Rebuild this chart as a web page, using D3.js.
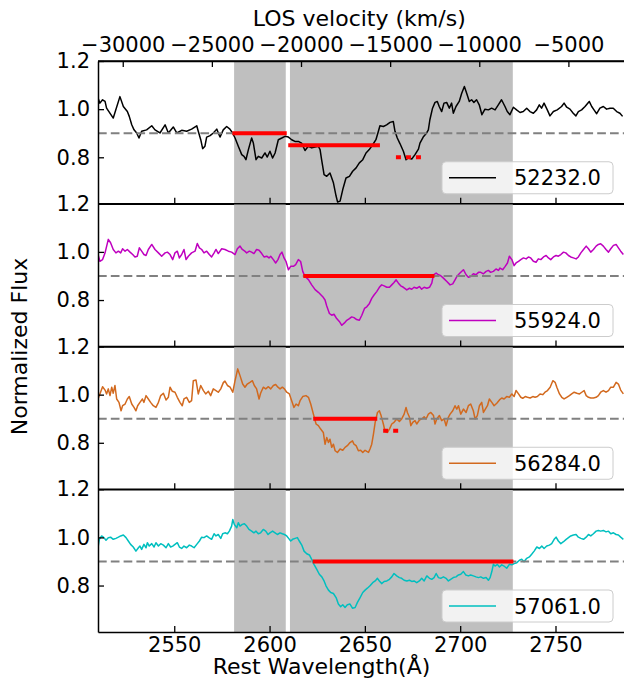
<!DOCTYPE html>
<html>
<head>
<meta charset="utf-8">
<script src="https://cdn.jsdelivr.net/npm/d3@7"></script>
<style>
  body { margin: 0; background: #ffffff; }
  svg text { font-family: "DejaVu Sans", sans-serif; fill: #000; }
</style>
</head>
<body>
<svg id="chart" width="624" height="679"></svg>
<script>
// ---- data -------------------------------------------------------------
const epochs = ["52232.0", "55924.0", "56284.0", "57061.0"];
const lineColors = ["#000000", "#bf00bf", "#d2691e", "#00bfbf"];

// Normalized flux vs rest wavelength (Å), one spectrum per MJD
const spec52232 = [
  [2510.0,1.046],[2511.0,1.025],[2512.4,1.039],[2513.7,1.032],[2514.5,1.004],[2518.0,0.963],[2521.5,1.052],
  [2523.3,1.011],[2525.4,0.990],[2526.4,0.970],[2527.7,0.935],[2528.9,0.914],[2530.3,0.901],[2531.5,0.880],
  [2532.9,0.908],[2535.5,0.914],[2538.2,0.931],[2539.9,0.914],[2542.5,0.901],[2545.2,0.935],[2546.9,0.901],
  [2549.5,0.926],[2551.3,0.901],[2553.9,0.912],[2556.5,0.908],[2559.1,0.917],[2561.8,0.931],[2562.6,0.908],
  [2563.9,0.873],[2564.9,0.836],[2566.1,0.846],[2567.0,0.884],[2568.8,0.890],[2570.5,0.901],[2572.3,0.917],
  [2574.0,0.884],[2575.7,0.914],[2577.5,0.928],[2579.2,0.917],[2580.6,0.901],[2581.9,0.880],[2583.6,0.846],
  [2585.4,0.811],[2586.6,0.804],[2587.6,0.790],[2588.9,0.832],[2590.6,0.880],[2591.5,0.859],[2592.9,0.790],
  [2594.1,0.804],[2595.9,0.797],[2597.6,0.818],[2598.8,0.801],[2600.2,0.825],[2601.6,0.797],[2602.9,0.818],
  [2604.6,0.873],[2606.4,0.880],[2608.1,0.887],[2609.9,0.884],[2611.6,0.873],[2613.3,0.866],[2615.1,0.866],
  [2616.8,0.859],[2618.6,0.828],[2620.3,0.846],[2622.1,0.839],[2623.8,0.843],[2625.6,0.846],[2626.5,0.832],
  [2627.3,0.790],[2628.6,0.728],[2630.0,0.721],[2631.7,0.735],[2633.5,0.694],[2634.9,0.639],[2635.7,0.614],
  [2637.0,0.618],[2638.4,0.666],[2640.1,0.714],[2641.9,0.721],[2643.6,0.742],[2645.4,0.756],[2647.1,0.777],
  [2648.9,0.790],[2650.6,0.818],[2652.3,0.832],[2654.1,0.852],[2655.8,0.873],[2657.1,0.908],[2657.9,0.931],
  [2659.7,0.928],[2661.4,0.935],[2663.2,0.945],[2664.9,0.949],[2665.8,0.908],[2667.0,0.880],[2668.4,0.857],
  [2670.2,0.825],[2671.6,0.790],[2672.8,0.797],[2674.6,0.793],[2676.3,0.811],[2678.1,0.834],[2678.9,0.859],
  [2680.6,0.884],[2682.4,0.901],[2683.3,0.914],[2684.1,0.956],[2685.5,1.004],[2686.8,1.028],[2688.0,1.032],
  [2689.0,1.011],[2690.3,0.990],[2691.5,1.025],[2692.9,1.028],[2694.3,1.004],[2695.5,1.025],[2696.4,0.983],
  [2697.8,1.011],[2699.5,1.032],[2700.8,1.066],[2702.2,1.094],[2703.4,1.066],[2704.8,1.032],[2706.0,1.039],
  [2707.2,1.028],[2708.6,1.039],[2710.0,1.018],[2711.4,0.977],[2713.0,1.000],[2714.8,0.997],[2716.5,1.004],
  [2718.3,0.997],[2720.0,1.018],[2721.7,1.039],[2723.5,1.011],[2724.7,0.990],[2726.1,0.977],[2727.9,1.008],
  [2729.6,0.997],[2731.4,0.986],[2733.1,0.990],[2734.9,1.004],[2736.6,0.990],[2738.4,0.983],[2740.1,0.997],
  [2741.5,1.018],[2742.7,1.004],[2744.0,1.025],[2745.7,0.997],[2747.1,0.972],[2748.9,0.990],[2750.9,0.997],
  [2753.2,1.011],[2754.5,1.025],[2755.9,1.008],[2757.6,1.000],[2759.3,0.983],[2760.7,0.972],[2762.0,0.990],
  [2763.7,0.997],[2765.5,1.011],[2767.7,1.032],[2769.0,1.011],[2770.2,0.997],[2771.6,0.981],[2773.3,1.004],
  [2775.1,1.011],[2776.8,1.000],[2778.6,1.004],[2780.3,1.004],[2782.1,0.990],[2783.8,0.983],[2785.2,0.970]
];

const spec55924 = [
  [2510.0,0.989],[2511.0,0.961],[2512.4,0.968],[2513.7,0.996],[2515.4,1.052],[2516.6,1.038],[2518.0,1.010],
  [2519.4,0.996],[2520.7,1.003],[2521.9,0.996],[2522.9,1.013],[2524.2,1.003],[2525.4,1.010],[2526.8,0.999],
  [2528.2,0.989],[2529.4,0.979],[2530.6,0.982],[2531.7,1.017],[2532.9,1.003],[2534.1,0.989],[2535.2,0.985],
  [2536.4,1.010],[2538.2,1.031],[2539.9,1.010],[2541.7,0.996],[2543.4,0.982],[2545.2,0.996],[2546.4,0.999],
  [2547.8,0.989],[2549.2,0.968],[2550.4,0.996],[2551.6,1.003],[2552.7,0.975],[2553.9,0.989],[2555.1,1.010],
  [2556.2,0.968],[2557.4,0.982],[2559.1,0.996],[2560.9,1.003],[2562.1,1.035],[2563.2,1.017],[2564.4,1.010],
  [2565.6,0.996],[2567.0,1.003],[2568.4,0.989],[2569.6,0.979],[2570.9,0.996],[2571.9,1.010],[2573.1,0.993],
  [2574.9,1.013],[2576.6,1.010],[2578.4,1.003],[2580.1,0.999],[2581.9,0.989],[2583.1,1.013],[2584.5,1.024],
  [2585.7,1.010],[2587.0,1.003],[2588.0,0.996],[2589.4,1.003],[2590.6,0.999],[2591.8,0.993],[2593.2,1.010],
  [2594.5,1.007],[2595.9,0.993],[2597.1,0.979],[2598.5,0.982],[2599.7,0.975],[2600.6,0.982],[2602.0,0.968],
  [2603.2,0.954],[2604.4,0.968],[2605.5,0.989],[2606.5,0.999],[2607.6,0.975],[2608.6,0.961],[2609.9,0.926],
  [2611.1,0.940],[2612.5,0.940],[2613.7,0.947],[2615.1,0.968],[2616.3,0.960],[2617.4,0.919],[2618.6,0.898],
  [2620.4,0.885],[2622.1,0.863],[2623.9,0.843],[2625.6,0.832],[2627.9,0.814],[2629.1,0.800],[2630.0,0.775],
  [2631.4,0.744],[2632.6,0.737],[2633.8,0.741],[2635.2,0.723],[2636.6,0.711],[2637.9,0.695],[2639.3,0.705],
  [2640.5,0.716],[2641.9,0.723],[2643.1,0.730],[2644.3,0.727],[2645.7,0.719],[2647.1,0.716],[2648.4,0.737],
  [2649.8,0.765],[2651.0,0.772],[2652.4,0.786],[2653.6,0.807],[2654.8,0.821],[2656.2,0.835],[2657.6,0.853],
  [2658.8,0.863],[2660.1,0.859],[2661.5,0.853],[2662.9,0.853],[2664.1,0.863],[2665.3,0.873],[2666.4,0.884],
  [2667.6,0.870],[2668.8,0.859],[2670.2,0.853],[2672.0,0.842],[2673.4,0.849],[2674.6,0.845],[2675.8,0.853],
  [2677.2,0.849],[2678.6,0.856],[2679.8,0.845],[2681.1,0.853],[2682.5,0.849],[2683.9,0.853],[2685.1,0.870],
  [2686.0,0.905],[2687.4,0.912],[2688.6,0.905],[2689.8,0.901],[2691.2,0.891],[2693.0,0.877],[2694.7,0.863],
  [2696.1,0.867],[2697.3,0.884],[2698.5,0.901],[2699.9,0.912],[2701.7,0.926],[2703.1,0.905],[2704.3,0.895],
  [2705.5,0.898],[2706.9,0.909],[2708.3,0.905],[2709.6,0.915],[2710.8,0.915],[2712.2,0.909],[2713.6,0.919],
  [2714.8,0.923],[2716.0,0.915],[2717.4,0.919],[2718.8,0.929],[2720.1,0.923],[2720.9,0.933],[2722.3,0.926],
  [2723.6,0.940],[2724.8,0.954],[2725.8,0.982],[2727.1,0.968],[2728.3,0.943],[2729.3,0.954],[2730.6,0.961],
  [2731.8,0.968],[2733.2,0.975],[2734.6,0.971],[2735.8,0.979],[2737.0,0.975],[2738.4,0.961],[2739.8,0.957],
  [2741.0,0.971],[2742.3,0.968],[2743.7,0.979],[2745.1,0.985],[2746.3,0.975],[2747.5,0.968],[2748.9,0.979],
  [2750.3,0.985],[2751.5,0.982],[2752.8,0.989],[2754.2,0.999],[2755.4,0.996],[2756.8,0.985],[2758.0,0.979],
  [2759.4,0.975],[2760.8,0.971],[2762.0,0.979],[2763.3,0.996],[2764.7,1.010],[2766.1,1.024],[2767.3,1.013],
  [2768.5,0.999],[2769.9,1.010],[2771.3,1.024],[2772.5,1.031],[2773.7,1.034],[2775.1,1.024],[2776.5,1.010],
  [2777.8,0.999],[2779.0,1.013],[2780.4,1.027],[2781.8,1.031],[2783.0,1.017],[2784.2,1.003],[2785.6,0.989]
];

const spec56284 = [
  [2510.0,0.982],[2511.0,1.003],[2512.4,1.033],[2513.7,1.019],[2514.5,1.003],[2515.4,1.024],[2516.3,0.996],
  [2517.2,1.031],[2518.0,1.006],[2518.9,1.038],[2519.8,0.982],[2521.0,0.968],[2522.1,0.933],[2522.9,0.954],
  [2524.2,0.961],[2525.4,0.982],[2526.4,0.992],[2527.7,0.961],[2528.9,0.947],[2529.9,0.933],[2530.8,0.954],
  [2532.0,0.968],[2533.3,0.982],[2534.1,0.968],[2535.2,0.996],[2536.4,0.982],[2537.6,0.968],[2539.0,0.954],
  [2540.4,0.947],[2541.7,0.968],[2542.9,0.996],[2544.3,1.006],[2545.7,0.978],[2546.9,0.989],[2547.8,1.031],
  [2549.0,1.014],[2550.4,1.010],[2551.6,0.989],[2553.0,0.968],[2554.2,0.954],[2555.1,0.982],[2556.5,0.989],
  [2557.9,0.968],[2559.1,0.975],[2560.0,1.058],[2561.4,1.061],[2562.6,1.003],[2563.9,1.038],[2565.3,1.017],
  [2566.5,1.003],[2567.9,1.014],[2569.1,0.996],[2570.5,1.024],[2571.9,1.017],[2573.1,1.010],[2574.4,1.024],
  [2575.8,1.051],[2576.6,1.056],[2577.9,1.038],[2579.3,1.031],[2580.7,1.010],[2581.9,1.058],[2583.3,1.107],
  [2584.5,1.079],[2585.9,1.044],[2587.1,1.031],[2588.3,1.044],[2589.7,1.051],[2591.0,1.058],[2592.0,1.038],
  [2593.2,1.024],[2594.5,0.982],[2595.3,1.006],[2596.7,1.031],[2598.0,1.024],[2599.4,1.033],[2600.6,1.024],
  [2602.0,1.038],[2603.2,1.042],[2604.4,1.031],[2605.5,1.024],[2606.7,1.031],[2607.8,1.024],[2609.0,1.010],
  [2610.4,1.003],[2611.6,0.975],[2612.8,0.947],[2613.9,0.961],[2615.1,0.954],[2616.0,0.975],[2617.4,0.992],
  [2619.1,0.996],[2620.4,0.989],[2621.6,0.961],[2623.0,0.919],[2624.4,0.878],[2625.6,0.871],[2626.8,0.857],
  [2628.2,0.843],[2629.1,0.794],[2630.0,0.822],[2630.9,0.801],[2631.7,0.815],[2632.6,0.781],[2633.5,0.794],
  [2634.4,0.767],[2635.6,0.760],[2637.0,0.774],[2638.4,0.769],[2639.6,0.781],[2640.8,0.788],[2642.2,0.801],
  [2643.5,0.808],[2644.3,0.794],[2645.4,0.788],[2646.6,0.767],[2647.8,0.769],[2648.9,0.760],[2650.1,0.769],
  [2651.0,0.764],[2651.9,0.760],[2652.7,0.774],[2653.6,0.794],[2654.5,0.836],[2655.4,0.885],[2656.6,0.926],
  [2657.6,0.933],[2658.5,0.913],[2659.7,0.878],[2660.6,0.847],[2661.8,0.843],[2662.9,0.857],[2664.1,0.878],
  [2665.3,0.885],[2666.7,0.899],[2668.1,0.889],[2669.3,0.899],[2670.6,0.919],[2671.6,0.947],[2672.3,0.926],
  [2673.4,0.906],[2674.1,0.871],[2675.1,0.885],[2676.3,0.892],[2677.2,0.878],[2678.6,0.894],[2679.8,0.899],
  [2681.1,0.908],[2682.1,0.899],[2683.3,0.919],[2684.6,0.926],[2686.0,0.913],[2686.8,0.878],[2687.7,0.899],
  [2689.1,0.913],[2690.3,0.892],[2691.6,0.899],[2692.6,0.871],[2693.8,0.906],[2694.7,0.919],[2696.1,0.933],
  [2697.3,0.954],[2698.2,0.940],[2699.1,0.954],[2700.3,0.919],[2701.7,0.940],[2703.1,0.926],[2704.3,0.954],
  [2705.5,0.961],[2706.9,0.933],[2707.8,0.899],[2709.0,0.913],[2710.1,0.954],[2711.3,0.968],[2712.2,0.926],
  [2713.2,0.940],[2714.3,0.954],[2715.3,0.982],[2716.6,0.968],[2717.8,0.954],[2719.2,0.964],[2720.6,0.978],
  [2721.8,0.986],[2723.0,0.982],[2724.4,0.992],[2725.8,0.989],[2727.1,1.003],[2728.3,0.992],[2729.3,1.017],
  [2730.6,1.003],[2731.8,0.989],[2732.8,0.985],[2734.1,0.992],[2735.3,0.989],[2736.7,0.986],[2738.1,0.992],
  [2739.3,0.989],[2740.5,0.992],[2741.9,1.003],[2743.3,1.000],[2744.5,1.010],[2745.8,1.017],[2747.2,1.031],
  [2748.6,1.058],[2749.8,1.051],[2750.7,1.031],[2752.1,1.003],[2753.3,0.989],[2754.5,0.982],[2755.9,0.989],
  [2757.3,0.996],[2758.5,1.003],[2759.8,1.010],[2761.2,1.006],[2762.6,1.003],[2763.8,1.010],[2765.0,1.017],
  [2766.1,0.996],[2767.3,0.989],[2768.5,0.986],[2769.9,0.986],[2771.3,0.989],[2772.5,0.996],[2773.7,1.010],
  [2775.1,1.017],[2776.5,1.010],[2777.8,1.017],[2779.0,1.031],[2780.4,1.031],[2781.8,1.051],[2783.0,1.044],
  [2784.2,1.019],[2785.6,1.003]
];

const spec57061 = [
  [2510.0,0.957],[2510.7,0.992],[2511.9,1.006],[2513.1,0.999],[2514.2,0.988],[2515.4,0.999],[2516.6,1.001],
  [2518.0,0.992],[2519.4,0.996],[2520.7,1.001],[2521.9,1.006],[2523.3,1.010],[2524.7,0.999],[2525.9,0.985],
  [2527.1,0.971],[2528.5,0.960],[2529.9,0.943],[2531.2,0.957],[2532.0,0.964],[2532.9,0.950],[2534.1,0.971],
  [2535.2,0.957],[2535.9,0.978],[2536.9,0.964],[2538.2,0.974],[2539.4,0.960],[2540.4,0.978],[2541.7,0.964],
  [2542.9,0.974],[2544.3,0.968],[2545.7,0.957],[2546.9,0.974],[2548.1,0.960],[2549.2,0.964],[2550.4,0.971],
  [2551.6,0.978],[2552.7,0.960],[2553.9,0.954],[2555.1,0.964],[2556.5,0.957],[2557.9,0.968],[2559.1,0.964],
  [2560.4,0.957],[2561.8,0.971],[2563.2,0.985],[2564.4,1.001],[2565.6,0.999],[2567.0,1.006],[2568.2,0.999],
  [2569.6,0.992],[2570.9,1.015],[2571.9,1.006],[2573.1,1.012],[2574.4,0.996],[2575.4,1.015],[2576.6,1.019],
  [2577.9,1.015],[2578.9,1.026],[2580.1,1.047],[2580.7,1.074],[2581.5,1.054],[2582.8,1.040],[2583.6,1.061],
  [2584.5,1.047],[2585.7,1.054],[2586.8,1.057],[2588.0,1.047],[2589.2,1.033],[2590.6,1.026],[2591.8,1.019],
  [2592.9,1.026],[2594.1,1.015],[2595.3,1.019],[2596.7,1.033],[2598.0,1.026],[2599.2,1.012],[2600.2,1.019],
  [2601.6,1.026],[2602.9,1.019],[2604.1,1.012],[2605.5,1.019],[2606.7,1.015],[2607.8,1.012],[2609.0,1.006],
  [2610.0,0.996],[2611.1,0.985],[2612.1,0.992],[2613.4,0.996],[2614.6,0.999],[2615.6,0.985],[2616.9,0.968],
  [2618.1,0.943],[2619.5,0.932],[2620.9,0.927],[2622.1,0.909],[2623.3,0.888],[2624.7,0.868],[2626.1,0.847],
  [2627.4,0.836],[2628.6,0.819],[2629.6,0.799],[2630.9,0.781],[2632.1,0.771],[2633.5,0.767],[2634.9,0.750],
  [2636.1,0.723],[2637.3,0.712],[2638.4,0.720],[2639.6,0.709],[2640.8,0.720],[2642.2,0.723],[2643.5,0.706],
  [2644.9,0.709],[2646.1,0.730],[2647.5,0.750],[2648.9,0.771],[2650.1,0.781],[2651.3,0.789],[2652.7,0.799],
  [2654.1,0.812],[2655.4,0.819],[2656.6,0.830],[2657.6,0.819],[2658.8,0.808],[2660.1,0.817],[2661.5,0.819],
  [2662.9,0.826],[2664.1,0.836],[2665.3,0.850],[2666.7,0.840],[2668.1,0.833],[2669.3,0.830],[2670.6,0.822],
  [2672.0,0.819],[2673.4,0.822],[2674.6,0.817],[2675.8,0.819],[2677.2,0.812],[2678.6,0.819],[2679.8,0.830],
  [2681.1,0.819],[2682.5,0.840],[2683.9,0.830],[2685.1,0.826],[2686.3,0.833],[2687.4,0.850],[2688.6,0.833],
  [2689.8,0.830],[2691.2,0.836],[2692.6,0.830],[2693.8,0.819],[2695.0,0.826],[2696.4,0.833],[2697.8,0.836],
  [2699.1,0.844],[2700.3,0.847],[2701.7,0.858],[2702.9,0.844],[2704.3,0.840],[2705.5,0.844],[2706.9,0.840],
  [2708.3,0.836],[2709.6,0.833],[2710.8,0.836],[2712.2,0.830],[2713.6,0.833],[2714.8,0.822],[2715.7,0.833],
  [2716.6,0.858],[2717.4,0.888],[2718.3,0.881],[2719.5,0.888],[2720.6,0.877],[2721.8,0.886],[2723.0,0.881],
  [2724.4,0.872],[2725.8,0.888],[2727.1,0.886],[2728.3,0.891],[2729.7,0.895],[2731.1,0.905],[2732.3,0.909],
  [2733.5,0.899],[2734.9,0.913],[2736.3,0.919],[2737.5,0.930],[2738.8,0.943],[2740.2,0.960],[2741.6,0.954],
  [2742.8,0.964],[2744.0,0.954],[2745.4,0.964],[2746.8,0.968],[2748.0,0.974],[2749.3,0.992],[2750.3,1.001],
  [2751.5,0.985],[2752.8,0.974],[2754.2,0.982],[2755.6,0.992],[2756.8,0.999],[2758.0,1.006],[2759.4,1.010],
  [2760.8,1.012],[2762.0,1.001],[2763.3,0.996],[2764.7,0.992],[2766.1,1.001],[2767.3,1.012],[2768.5,1.006],
  [2769.9,1.015],[2771.3,1.026],[2772.5,1.029],[2773.7,1.026],[2775.1,1.029],[2776.5,1.023],[2777.8,1.026],
  [2779.0,1.015],[2780.4,1.019],[2781.8,1.012],[2783.0,1.010],[2784.2,1.001],[2785.6,0.992]
];

const spectra = [spec52232, spec55924, spec56284, spec57061];

// Absorption troughs: [start Å, end Å, flux level, style]
const troughs52232 = [[2580.5, 2609.0, 0.90, "solid"], [2609.8, 2657.9, 0.85, "solid"], [2666.3, 2679.5, 0.80, "dotted"]];
const troughs55924 = [[2617.7, 2686.5, 0.90, "solid"]];
const troughs56284 = [[2622.9, 2656.5, 0.90, "solid"], [2659.6, 2667.5, 0.85, "dotted"]];
const troughs57061 = [[2622.6, 2727.9, 0.90, "solid"]];
const troughs = [troughs52232, troughs55924, troughs56284, troughs57061];

const continuumLevel = 0.9;
const shadedRanges = [[2581.4, 2608.5], [2610.7, 2727.6]];

const wavelengthTicks = [2550, 2600, 2650, 2700, 2750];
const fluxTicks = [0.8, 1.0, 1.2];
const velocityTicks = [-30000, -25000, -20000, -15000, -10000, -5000];
const restWavelength = 2803.53;   // Mg II
const speedOfLight = 299792.458;  // km/s

// ---- layout -----------------------------------------------------------
const svg = d3.select("#chart");
const defs = svg.append("defs");
const plotLeft = 98, plotRight = 624.5, plotTop = 61, panelH = 142.75;
const xDomain = [2510, 2786.2];
const fs = 21;        // tick and legend text
const titleFs = 22;   // axis titles

const x = d3.scaleLinear().domain(xDomain).range([plotLeft, plotRight]);
const toVel = l => speedOfLight * (l / restWavelength - 1);
const xVel = d3.scaleLinear().domain(xDomain.map(toVel)).range([plotLeft, plotRight]);

spectra.forEach((spec, i) => {
  const y0 = plotTop + i * panelH;
  const y = d3.scaleLinear().domain([0.607, 1.2]).range([y0 + panelH, y0]);
  const g = svg.append("g");

  const cid = "clip" + i;
  defs.append("clipPath").attr("id", cid)
    .append("rect").attr("x", plotLeft).attr("y", y0).attr("width", plotRight - plotLeft).attr("height", panelH);

  // shaded velocity windows
  g.selectAll("rect.band").data(shadedRanges).join("rect")
    .attr("x", d => x(d[0])).attr("width", d => x(d[1]) - x(d[0]))
    .attr("y", y0).attr("height", panelH)
    .attr("fill", "#bfbfbf");

  // spectrum
  g.append("path").datum(spec)
    .attr("clip-path", `url(#${cid})`)
    .attr("fill", "none").attr("stroke", lineColors[i]).attr("stroke-width", 1.5)
    .attr("stroke-linejoin", "round")
    .attr("d", d3.line().x(d => x(d[0])).y(d => y(d[1])));

  // continuum threshold
  g.append("line")
    .attr("x1", plotLeft).attr("x2", plotRight)
    .attr("y1", y(continuumLevel)).attr("y2", y(continuumLevel))
    .attr("stroke", "#808080").attr("stroke-width", 2).attr("stroke-dasharray", "8.7,4.1");

  // trough markers
  g.selectAll("line.trough").data(troughs[i]).join("line")
    .attr("x1", d => x(d[0])).attr("x2", d => x(d[1]))
    .attr("y1", d => y(d[2])).attr("y2", d => y(d[2]))
    .attr("stroke", "#ff0000").attr("stroke-width", 4)
    .attr("stroke-dasharray", d => d[3] === "dotted" ? "5,5" : null);

  // axes
  const yAxis = d3.axisLeft(y).tickValues(fluxTicks).tickFormat(d3.format(".1f"))
    .tickSizeInner(-6).tickSizeOuter(0).tickPadding(8);
  const ya = svg.append("g").attr("transform", `translate(${plotLeft},0)`).call(yAxis);

  const xAxis = d3.axisBottom(x).tickValues(wavelengthTicks)
    .tickSizeInner(-6).tickSizeOuter(0).tickPadding(5.5)
    .tickFormat(i === spectra.length - 1 ? d3.format("d") : () => "");
  const xa = svg.append("g").attr("transform", `translate(0,${y0 + panelH})`).call(xAxis);

  [ya, xa].forEach(a => {
    a.selectAll("path.domain").attr("stroke", "#000").attr("stroke-width", 1.5);
    a.selectAll(".tick line").attr("stroke", "#000").attr("stroke-width", 1.3);
    a.selectAll(".tick text").attr("font-size", fs).attr("fill", "#000")
      .attr("font-family", "DejaVu Sans");
  });

  // top spine
  svg.append("line").attr("x1", plotLeft).attr("x2", plotRight).attr("y1", y0).attr("y2", y0)
    .attr("stroke", "#000").attr("stroke-width", 1.5);

  // legend
  const lw = 171, lh = 32;
  const lx = 613 - lw, ly = y0 + panelH - 10 - lh;
  const lg = svg.append("g");
  lg.append("rect").attr("x", lx).attr("y", ly).attr("width", lw).attr("height", lh)
    .attr("rx", 4).attr("fill", "#ffffff").attr("fill-opacity", 0.8)
    .attr("stroke", "#cccccc").attr("stroke-width", 1);
  lg.append("line").attr("x1", lx + 7).attr("x2", lx + 54)
    .attr("y1", ly + lh / 2).attr("y2", ly + lh / 2)
    .attr("stroke", lineColors[i]).attr("stroke-width", 1.5);
  lg.append("text").attr("x", lx + 72).attr("y", ly + lh / 2).attr("dy", "0.36em")
    .attr("font-size", fs).text(epochs[i]);
});

// velocity axis along the top of the first panel
const vAxis = d3.axisTop(xVel).tickValues(velocityTicks).tickFormat(d3.format("d"))
  .tickSizeInner(-6).tickSizeOuter(0).tickPadding(9);
const va = svg.append("g").attr("transform", `translate(0,${plotTop})`).call(vAxis);
va.selectAll("path.domain").attr("stroke", "#000").attr("stroke-width", 1.5);
va.selectAll(".tick line").attr("stroke", "#000").attr("stroke-width", 1.3);
va.selectAll(".tick text").attr("font-size", fs).attr("fill", "#000").attr("font-family", "DejaVu Sans");

// axis titles
svg.append("text").attr("x", (plotLeft + plotRight) / 2 - 2).attr("y", 26)
  .attr("text-anchor", "middle").attr("font-size", titleFs).text("LOS velocity (km/s)");
svg.append("text").attr("x", 321.5).attr("y", 673.5)
  .attr("text-anchor", "middle").attr("font-size", titleFs).text("Rest Wavelength(Å)");
svg.append("text").attr("transform", `translate(27,${plotTop + 2 * panelH}) rotate(-90)`)
  .attr("text-anchor", "middle").attr("font-size", titleFs).text("Normalized Flux");
</script>
</body>
</html>
